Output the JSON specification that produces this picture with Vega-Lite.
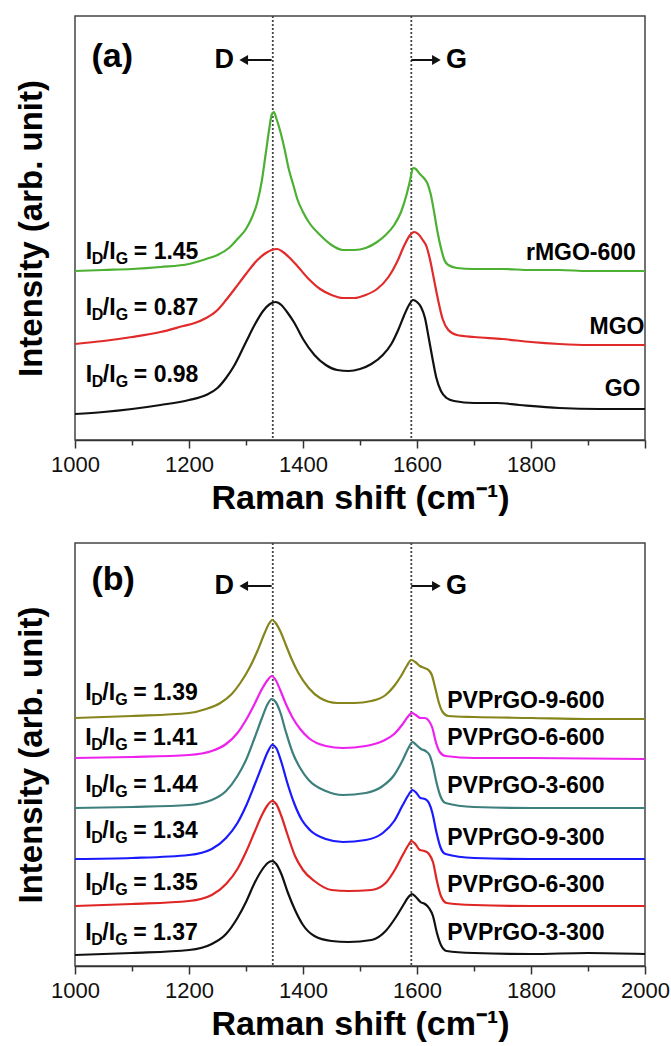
{
  "$schema": "https://vega.github.io/schema/vega-lite/v6.json",
  "padding": {"left": 14, "top": 14, "right": 0, "bottom": 0},
  "background": "white",
  "config": {
    "view": {"stroke": "#444", "strokeWidth": 1.5},
    "concat": {"spacing": 25},
    "text": {"font": "Liberation Sans", "fontWeight": "bold", "color": "#000"},
    "axis": {"grid": false, "labelFont": "Liberation Sans", "titleFont": "Liberation Sans", "titleColor": "#000", "labelColor": "#111", "domainColor": "#333", "tickColor": "#333"},
    "axisY": {"title": "Intensity (arb. unit)", "labels": false, "ticks": false, "domain": false, "titleFontSize": 33, "titleFontWeight": "bold", "titlePadding": 27}
  },
  "resolve": {"scale": {"color": "independent"}},
  "datasets": {
    "a": [
      {"s":"rMGO-600","x":1000,"v":169},{"s":"rMGO-600","x":1050,"v":170},{"s":"rMGO-600","x":1100,"v":171},{"s":"rMGO-600","x":1150,"v":173},{"s":"rMGO-600","x":1200,"v":176},{"s":"rMGO-600","x":1230,"v":181},{"s":"rMGO-600","x":1250,"v":185},{"s":"rMGO-600","x":1270,"v":192},{"s":"rMGO-600","x":1285,"v":201},{"s":"rMGO-600","x":1300,"v":211},{"s":"rMGO-600","x":1310,"v":222},{"s":"rMGO-600","x":1320,"v":238},{"s":"rMGO-600","x":1328,"v":260},{"s":"rMGO-600","x":1335,"v":288},{"s":"rMGO-600","x":1341,"v":312},{"s":"rMGO-600","x":1345,"v":325},{"s":"rMGO-600","x":1349,"v":328},{"s":"rMGO-600","x":1353,"v":322},{"s":"rMGO-600","x":1360,"v":309},{"s":"rMGO-600","x":1368,"v":290},{"s":"rMGO-600","x":1375,"v":271},{"s":"rMGO-600","x":1383,"v":255},{"s":"rMGO-600","x":1390,"v":241},{"s":"rMGO-600","x":1400,"v":228},{"s":"rMGO-600","x":1410,"v":218},{"s":"rMGO-600","x":1430,"v":205},{"s":"rMGO-600","x":1450,"v":195},{"s":"rMGO-600","x":1470,"v":190},{"s":"rMGO-600","x":1490,"v":190},{"s":"rMGO-600","x":1510,"v":192},{"s":"rMGO-600","x":1530,"v":198},{"s":"rMGO-600","x":1545,"v":205},{"s":"rMGO-600","x":1560,"v":215},{"s":"rMGO-600","x":1572,"v":228},{"s":"rMGO-600","x":1582,"v":246},{"s":"rMGO-600","x":1588,"v":260},{"s":"rMGO-600","x":1593,"v":272},{"s":"rMGO-600","x":1598,"v":271},{"s":"rMGO-600","x":1605,"v":266},{"s":"rMGO-600","x":1612,"v":262},{"s":"rMGO-600","x":1618,"v":257},{"s":"rMGO-600","x":1624,"v":246},{"s":"rMGO-600","x":1630,"v":228},{"s":"rMGO-600","x":1636,"v":208},{"s":"rMGO-600","x":1642,"v":192},{"s":"rMGO-600","x":1648,"v":180},{"s":"rMGO-600","x":1655,"v":175},{"s":"rMGO-600","x":1670,"v":172},{"s":"rMGO-600","x":1700,"v":171},{"s":"rMGO-600","x":1750,"v":171},{"s":"rMGO-600","x":1800,"v":170},{"s":"rMGO-600","x":1850,"v":170},{"s":"rMGO-600","x":1900,"v":169},{"s":"rMGO-600","x":1950,"v":169},{"s":"rMGO-600","x":2000,"v":169},
      {"s":"MGO","x":1000,"v":96},{"s":"MGO","x":1050,"v":99},{"s":"MGO","x":1100,"v":103},{"s":"MGO","x":1150,"v":108},{"s":"MGO","x":1190,"v":114},{"s":"MGO","x":1210,"v":117},{"s":"MGO","x":1230,"v":122},{"s":"MGO","x":1250,"v":130},{"s":"MGO","x":1265,"v":140},{"s":"MGO","x":1280,"v":151},{"s":"MGO","x":1300,"v":166},{"s":"MGO","x":1320,"v":180},{"s":"MGO","x":1335,"v":187},{"s":"MGO","x":1345,"v":190},{"s":"MGO","x":1355,"v":191},{"s":"MGO","x":1365,"v":188},{"s":"MGO","x":1375,"v":183},{"s":"MGO","x":1390,"v":174},{"s":"MGO","x":1410,"v":161},{"s":"MGO","x":1430,"v":151},{"s":"MGO","x":1450,"v":145},{"s":"MGO","x":1470,"v":142},{"s":"MGO","x":1490,"v":142},{"s":"MGO","x":1510,"v":145},{"s":"MGO","x":1530,"v":151},{"s":"MGO","x":1550,"v":163},{"s":"MGO","x":1565,"v":178},{"s":"MGO","x":1578,"v":195},{"s":"MGO","x":1588,"v":205},{"s":"MGO","x":1595,"v":208},{"s":"MGO","x":1602,"v":206},{"s":"MGO","x":1610,"v":200},{"s":"MGO","x":1617,"v":193},{"s":"MGO","x":1623,"v":180},{"s":"MGO","x":1630,"v":160},{"s":"MGO","x":1637,"v":140},{"s":"MGO","x":1645,"v":121},{"s":"MGO","x":1655,"v":110},{"s":"MGO","x":1670,"v":105},{"s":"MGO","x":1700,"v":103},{"s":"MGO","x":1750,"v":101},{"s":"MGO","x":1800,"v":98},{"s":"MGO","x":1850,"v":96},{"s":"MGO","x":1900,"v":95},{"s":"MGO","x":2000,"v":95},
      {"s":"GO","x":1000,"v":26},{"s":"GO","x":1050,"v":28},{"s":"GO","x":1100,"v":31},{"s":"GO","x":1150,"v":35},{"s":"GO","x":1200,"v":40},{"s":"GO","x":1230,"v":45},{"s":"GO","x":1250,"v":52},{"s":"GO","x":1265,"v":62},{"s":"GO","x":1280,"v":75},{"s":"GO","x":1300,"v":98},{"s":"GO","x":1315,"v":115},{"s":"GO","x":1330,"v":129},{"s":"GO","x":1342,"v":136},{"s":"GO","x":1352,"v":138},{"s":"GO","x":1362,"v":135},{"s":"GO","x":1372,"v":128},{"s":"GO","x":1385,"v":117},{"s":"GO","x":1400,"v":101},{"s":"GO","x":1420,"v":85},{"s":"GO","x":1440,"v":75},{"s":"GO","x":1460,"v":70},{"s":"GO","x":1480,"v":69},{"s":"GO","x":1500,"v":71},{"s":"GO","x":1520,"v":76},{"s":"GO","x":1540,"v":85},{"s":"GO","x":1555,"v":96},{"s":"GO","x":1567,"v":110},{"s":"GO","x":1577,"v":124},{"s":"GO","x":1586,"v":135},{"s":"GO","x":1593,"v":140},{"s":"GO","x":1600,"v":138},{"s":"GO","x":1607,"v":133},{"s":"GO","x":1614,"v":122},{"s":"GO","x":1620,"v":104},{"s":"GO","x":1627,"v":82},{"s":"GO","x":1634,"v":62},{"s":"GO","x":1642,"v":49},{"s":"GO","x":1652,"v":42},{"s":"GO","x":1665,"v":39},{"s":"GO","x":1700,"v":37},{"s":"GO","x":1740,"v":37},{"s":"GO","x":1780,"v":35},{"s":"GO","x":1850,"v":32},{"s":"GO","x":1920,"v":31},{"s":"GO","x":2000,"v":31}
    ],
    "b": [
      {"s":"PVPrGO-9-600","x":1000,"v":248},{"s":"PVPrGO-9-600","x":1100,"v":250},{"s":"PVPrGO-9-600","x":1200,"v":253},{"s":"PVPrGO-9-600","x":1230,"v":257},{"s":"PVPrGO-9-600","x":1255,"v":263},{"s":"PVPrGO-9-600","x":1275,"v":272},{"s":"PVPrGO-9-600","x":1290,"v":283},{"s":"PVPrGO-9-600","x":1305,"v":297},{"s":"PVPrGO-9-600","x":1320,"v":315},{"s":"PVPrGO-9-600","x":1332,"v":332},{"s":"PVPrGO-9-600","x":1340,"v":342},{"s":"PVPrGO-9-600","x":1346,"v":346},{"s":"PVPrGO-9-600","x":1352,"v":343},{"s":"PVPrGO-9-600","x":1360,"v":335},{"s":"PVPrGO-9-600","x":1370,"v":321},{"s":"PVPrGO-9-600","x":1380,"v":307},{"s":"PVPrGO-9-600","x":1392,"v":293},{"s":"PVPrGO-9-600","x":1410,"v":278},{"s":"PVPrGO-9-600","x":1430,"v":268},{"s":"PVPrGO-9-600","x":1460,"v":263},{"s":"PVPrGO-9-600","x":1490,"v":263},{"s":"PVPrGO-9-600","x":1520,"v":265},{"s":"PVPrGO-9-600","x":1545,"v":271},{"s":"PVPrGO-9-600","x":1560,"v":280},{"s":"PVPrGO-9-600","x":1572,"v":290},{"s":"PVPrGO-9-600","x":1582,"v":300},{"s":"PVPrGO-9-600","x":1590,"v":306},{"s":"PVPrGO-9-600","x":1597,"v":304},{"s":"PVPrGO-9-600","x":1605,"v":300},{"s":"PVPrGO-9-600","x":1613,"v":298},{"s":"PVPrGO-9-600","x":1620,"v":296},{"s":"PVPrGO-9-600","x":1626,"v":291},{"s":"PVPrGO-9-600","x":1632,"v":278},{"s":"PVPrGO-9-600","x":1638,"v":264},{"s":"PVPrGO-9-600","x":1645,"v":254},{"s":"PVPrGO-9-600","x":1655,"v":250},{"s":"PVPrGO-9-600","x":1700,"v":249},{"s":"PVPrGO-9-600","x":1800,"v":248},{"s":"PVPrGO-9-600","x":1900,"v":247},{"s":"PVPrGO-9-600","x":2000,"v":247},
      {"s":"PVPrGO-6-600","x":1000,"v":208},{"s":"PVPrGO-6-600","x":1100,"v":209},{"s":"PVPrGO-6-600","x":1200,"v":211},{"s":"PVPrGO-6-600","x":1240,"v":215},{"s":"PVPrGO-6-600","x":1265,"v":222},{"s":"PVPrGO-6-600","x":1285,"v":233},{"s":"PVPrGO-6-600","x":1300,"v":246},{"s":"PVPrGO-6-600","x":1315,"v":262},{"s":"PVPrGO-6-600","x":1328,"v":277},{"s":"PVPrGO-6-600","x":1338,"v":286},{"s":"PVPrGO-6-600","x":1345,"v":290},{"s":"PVPrGO-6-600","x":1352,"v":286},{"s":"PVPrGO-6-600","x":1360,"v":276},{"s":"PVPrGO-6-600","x":1370,"v":262},{"s":"PVPrGO-6-600","x":1382,"v":248},{"s":"PVPrGO-6-600","x":1395,"v":237},{"s":"PVPrGO-6-600","x":1410,"v":228},{"s":"PVPrGO-6-600","x":1440,"v":220},{"s":"PVPrGO-6-600","x":1470,"v":218},{"s":"PVPrGO-6-600","x":1510,"v":220},{"s":"PVPrGO-6-600","x":1540,"v":225},{"s":"PVPrGO-6-600","x":1560,"v":232},{"s":"PVPrGO-6-600","x":1575,"v":242},{"s":"PVPrGO-6-600","x":1585,"v":250},{"s":"PVPrGO-6-600","x":1591,"v":253},{"s":"PVPrGO-6-600","x":1598,"v":251},{"s":"PVPrGO-6-600","x":1606,"v":248},{"s":"PVPrGO-6-600","x":1614,"v":248},{"s":"PVPrGO-6-600","x":1621,"v":245},{"s":"PVPrGO-6-600","x":1627,"v":238},{"s":"PVPrGO-6-600","x":1633,"v":224},{"s":"PVPrGO-6-600","x":1640,"v":214},{"s":"PVPrGO-6-600","x":1650,"v":210},{"s":"PVPrGO-6-600","x":1700,"v":208},{"s":"PVPrGO-6-600","x":1800,"v":208},{"s":"PVPrGO-6-600","x":2000,"v":207},
      {"s":"PVPrGO-3-600","x":1000,"v":158},{"s":"PVPrGO-3-600","x":1100,"v":159},{"s":"PVPrGO-3-600","x":1200,"v":161},{"s":"PVPrGO-3-600","x":1240,"v":166},{"s":"PVPrGO-3-600","x":1265,"v":175},{"s":"PVPrGO-3-600","x":1285,"v":190},{"s":"PVPrGO-3-600","x":1300,"v":206},{"s":"PVPrGO-3-600","x":1315,"v":228},{"s":"PVPrGO-3-600","x":1328,"v":248},{"s":"PVPrGO-3-600","x":1338,"v":262},{"s":"PVPrGO-3-600","x":1345,"v":267},{"s":"PVPrGO-3-600","x":1352,"v":264},{"s":"PVPrGO-3-600","x":1360,"v":254},{"s":"PVPrGO-3-600","x":1370,"v":234},{"s":"PVPrGO-3-600","x":1382,"v":213},{"s":"PVPrGO-3-600","x":1395,"v":198},{"s":"PVPrGO-3-600","x":1410,"v":186},{"s":"PVPrGO-3-600","x":1440,"v":175},{"s":"PVPrGO-3-600","x":1470,"v":171},{"s":"PVPrGO-3-600","x":1510,"v":173},{"s":"PVPrGO-3-600","x":1540,"v":180},{"s":"PVPrGO-3-600","x":1560,"v":191},{"s":"PVPrGO-3-600","x":1575,"v":206},{"s":"PVPrGO-3-600","x":1585,"v":218},{"s":"PVPrGO-3-600","x":1592,"v":224},{"s":"PVPrGO-3-600","x":1599,"v":221},{"s":"PVPrGO-3-600","x":1607,"v":217},{"s":"PVPrGO-3-600","x":1615,"v":215},{"s":"PVPrGO-3-600","x":1622,"v":211},{"s":"PVPrGO-3-600","x":1628,"v":200},{"s":"PVPrGO-3-600","x":1634,"v":184},{"s":"PVPrGO-3-600","x":1641,"v":170},{"s":"PVPrGO-3-600","x":1650,"v":163},{"s":"PVPrGO-3-600","x":1700,"v":159},{"s":"PVPrGO-3-600","x":1800,"v":158},{"s":"PVPrGO-3-600","x":2000,"v":158},
      {"s":"PVPrGO-9-300","x":1000,"v":107},{"s":"PVPrGO-9-300","x":1100,"v":108},{"s":"PVPrGO-9-300","x":1200,"v":111},{"s":"PVPrGO-9-300","x":1240,"v":117},{"s":"PVPrGO-9-300","x":1265,"v":128},{"s":"PVPrGO-9-300","x":1285,"v":143},{"s":"PVPrGO-9-300","x":1300,"v":160},{"s":"PVPrGO-9-300","x":1315,"v":181},{"s":"PVPrGO-9-300","x":1328,"v":200},{"s":"PVPrGO-9-300","x":1338,"v":214},{"s":"PVPrGO-9-300","x":1346,"v":221},{"s":"PVPrGO-9-300","x":1353,"v":218},{"s":"PVPrGO-9-300","x":1362,"v":204},{"s":"PVPrGO-9-300","x":1372,"v":184},{"s":"PVPrGO-9-300","x":1385,"v":162},{"s":"PVPrGO-9-300","x":1398,"v":146},{"s":"PVPrGO-9-300","x":1412,"v":136},{"s":"PVPrGO-9-300","x":1440,"v":127},{"s":"PVPrGO-9-300","x":1470,"v":124},{"s":"PVPrGO-9-300","x":1510,"v":126},{"s":"PVPrGO-9-300","x":1540,"v":133},{"s":"PVPrGO-9-300","x":1560,"v":145},{"s":"PVPrGO-9-300","x":1575,"v":161},{"s":"PVPrGO-9-300","x":1585,"v":171},{"s":"PVPrGO-9-300","x":1592,"v":176},{"s":"PVPrGO-9-300","x":1599,"v":173},{"s":"PVPrGO-9-300","x":1606,"v":168},{"s":"PVPrGO-9-300","x":1614,"v":167},{"s":"PVPrGO-9-300","x":1621,"v":163},{"s":"PVPrGO-9-300","x":1627,"v":153},{"s":"PVPrGO-9-300","x":1634,"v":134},{"s":"PVPrGO-9-300","x":1641,"v":119},{"s":"PVPrGO-9-300","x":1650,"v":112},{"s":"PVPrGO-9-300","x":1700,"v":108},{"s":"PVPrGO-9-300","x":1800,"v":107},{"s":"PVPrGO-9-300","x":2000,"v":107},
      {"s":"PVPrGO-6-300","x":1000,"v":60},{"s":"PVPrGO-6-300","x":1100,"v":62},{"s":"PVPrGO-6-300","x":1200,"v":65},{"s":"PVPrGO-6-300","x":1240,"v":71},{"s":"PVPrGO-6-300","x":1265,"v":82},{"s":"PVPrGO-6-300","x":1285,"v":97},{"s":"PVPrGO-6-300","x":1300,"v":114},{"s":"PVPrGO-6-300","x":1315,"v":134},{"s":"PVPrGO-6-300","x":1328,"v":151},{"s":"PVPrGO-6-300","x":1338,"v":161},{"s":"PVPrGO-6-300","x":1346,"v":165},{"s":"PVPrGO-6-300","x":1353,"v":162},{"s":"PVPrGO-6-300","x":1362,"v":150},{"s":"PVPrGO-6-300","x":1373,"v":131},{"s":"PVPrGO-6-300","x":1386,"v":110},{"s":"PVPrGO-6-300","x":1400,"v":96},{"s":"PVPrGO-6-300","x":1420,"v":85},{"s":"PVPrGO-6-300","x":1450,"v":76},{"s":"PVPrGO-6-300","x":1480,"v":75},{"s":"PVPrGO-6-300","x":1520,"v":76},{"s":"PVPrGO-6-300","x":1545,"v":83},{"s":"PVPrGO-6-300","x":1562,"v":97},{"s":"PVPrGO-6-300","x":1575,"v":111},{"s":"PVPrGO-6-300","x":1585,"v":121},{"s":"PVPrGO-6-300","x":1590,"v":125},{"s":"PVPrGO-6-300","x":1597,"v":122},{"s":"PVPrGO-6-300","x":1605,"v":116},{"s":"PVPrGO-6-300","x":1613,"v":115},{"s":"PVPrGO-6-300","x":1621,"v":112},{"s":"PVPrGO-6-300","x":1628,"v":104},{"s":"PVPrGO-6-300","x":1635,"v":85},{"s":"PVPrGO-6-300","x":1642,"v":70},{"s":"PVPrGO-6-300","x":1652,"v":63},{"s":"PVPrGO-6-300","x":1700,"v":61},{"s":"PVPrGO-6-300","x":1800,"v":60},{"s":"PVPrGO-6-300","x":2000,"v":60},
      {"s":"PVPrGO-3-300","x":1000,"v":11},{"s":"PVPrGO-3-300","x":1100,"v":13},{"s":"PVPrGO-3-300","x":1200,"v":16},{"s":"PVPrGO-3-300","x":1240,"v":22},{"s":"PVPrGO-3-300","x":1265,"v":32},{"s":"PVPrGO-3-300","x":1285,"v":48},{"s":"PVPrGO-3-300","x":1300,"v":64},{"s":"PVPrGO-3-300","x":1315,"v":83},{"s":"PVPrGO-3-300","x":1328,"v":96},{"s":"PVPrGO-3-300","x":1338,"v":103},{"s":"PVPrGO-3-300","x":1346,"v":105},{"s":"PVPrGO-3-300","x":1353,"v":102},{"s":"PVPrGO-3-300","x":1362,"v":92},{"s":"PVPrGO-3-300","x":1373,"v":74},{"s":"PVPrGO-3-300","x":1386,"v":56},{"s":"PVPrGO-3-300","x":1400,"v":41},{"s":"PVPrGO-3-300","x":1420,"v":30},{"s":"PVPrGO-3-300","x":1450,"v":25},{"s":"PVPrGO-3-300","x":1480,"v":24},{"s":"PVPrGO-3-300","x":1520,"v":26},{"s":"PVPrGO-3-300","x":1545,"v":35},{"s":"PVPrGO-3-300","x":1562,"v":48},{"s":"PVPrGO-3-300","x":1575,"v":60},{"s":"PVPrGO-3-300","x":1585,"v":69},{"s":"PVPrGO-3-300","x":1591,"v":72},{"s":"PVPrGO-3-300","x":1598,"v":69},{"s":"PVPrGO-3-300","x":1606,"v":64},{"s":"PVPrGO-3-300","x":1614,"v":62},{"s":"PVPrGO-3-300","x":1621,"v":58},{"s":"PVPrGO-3-300","x":1628,"v":50},{"s":"PVPrGO-3-300","x":1635,"v":33},{"s":"PVPrGO-3-300","x":1642,"v":21},{"s":"PVPrGO-3-300","x":1652,"v":15},{"s":"PVPrGO-3-300","x":1700,"v":13},{"s":"PVPrGO-3-300","x":1800,"v":12},{"s":"PVPrGO-3-300","x":1900,"v":13},{"s":"PVPrGO-3-300","x":2000,"v":12}
    ],
    "ratioA": [{"x":1019,"v":188,"t":"= 1.45"},{"x":1019,"v":132,"t":"= 0.87"},{"x":1019,"v":65,"t":"= 0.98"}],
    "nameA": [{"x":1984,"v":187,"n":"rMGO-600"},{"x":1999,"v":113,"n":"MGO"},{"x":1992,"v":51,"n":"GO"}],
    "ratioB": [{"x":1018,"v":273,"t":"= 1.39"},{"x":1018,"v":228,"t":"= 1.41"},{"x":1018,"v":181,"t":"= 1.44"},{"x":1018,"v":135,"t":"= 1.34"},{"x":1018,"v":83,"t":"= 1.35"},{"x":1018,"v":33,"t":"= 1.37"}],
    "nameB": [{"x":1653,"v":265,"n":"PVPrGO-9-600"},{"x":1653,"v":228,"n":"PVPrGO-6-600"},{"x":1653,"v":180,"n":"PVPrGO-3-600"},{"x":1653,"v":128,"n":"PVPrGO-9-300"},{"x":1653,"v":81,"n":"PVPrGO-6-300"},{"x":1653,"v":33,"n":"PVPrGO-3-300"}],
    "peaks": [{"x":1347},{"x":1590}],
    "arrows": [{"x":1345,"x2":1300,"v":380},{"x":1590,"x2":1630,"v":380}],
    "headL": [{"x":1296,"v":380}],
    "headR": [{"x":1634,"v":380}],
    "labD": [{"x":1279,"v":380,"t":"D"}],
    "labG": [{"x":1651,"v":380,"t":"G"}],
    "tagA": [{"x":1029,"v":383,"t":"(a)"}],
    "tagB": [{"x":1029,"v":386,"t":"(b)"}]
  },
  "vconcat": [
    {
      "width": 570, "height": 424,
      "resolve": {"axis": {"x": "independent"}},
      "encoding": {
        "y": {"field": "v", "type": "quantitative", "scale": {"domain": [0, 424], "nice": false}, "title": "Intensity (arb. unit)"}
      },
      "layer": [
        {"data": {"name": "peaks"}, "mark": {"type": "rule", "color": "#444", "strokeWidth": 1.8, "strokeDash": [2, 2]},
         "encoding": {"y": null, "x": {"field": "x", "type": "quantitative", "scale": {"domain": [1000, 2000], "nice": false, "zero": false},
           "axis": {"orient": "bottom", "values": [1100, 1300, 1500, 1700, 1900], "tickSize": 5, "tickWidth": 1.5, "labels": false, "domain": false, "title": null}}}},
        {"data": {"name": "a"}, "mark": {"type": "line", "strokeWidth": 2.2, "interpolate": "monotone"},
         "encoding": {
           "x": {"field": "x", "type": "quantitative", "scale": {"domain": [1000, 2000], "nice": false, "zero": false},
             "axis": {"orient": "bottom", "values": [1000, 1200, 1400, 1600, 1800, 2000], "format": "d", "labelExpr": "datum.value == 2000 ? '' : datum.label", "title": "Raman shift (cm⁻¹)", "tickSize": 8, "tickWidth": 1.5, "labelFontSize": 22, "labelPadding": 6, "labelFlush": false, "labelOverlap": false, "titleFontSize": 34, "titleFontWeight": "bold", "titlePadding": 6, "domainWidth": 1.5}},
           "color": {"field": "s", "type": "nominal", "legend": null, "scale": {"domain": ["rMGO-600", "MGO", "GO"], "range": ["#4cb033", "#e12a2a", "#111111"]}},
           "detail": {"field": "s"}
         }},
        {"data": {"name": "ratioA"}, "mark": {"type": "text", "align": "left", "baseline": "middle", "fontSize": 23},
         "encoding": {"x": {"field": "x", "type": "quantitative", "axis": null}, "text": {"value": "I"}}},
        {"data": {"name": "ratioA"}, "mark": {"type": "text", "align": "left", "baseline": "middle", "fontSize": 16, "dx": 6, "dy": 7},
         "encoding": {"x": {"field": "x", "type": "quantitative", "axis": null}, "text": {"value": "D"}}},
        {"data": {"name": "ratioA"}, "mark": {"type": "text", "align": "left", "baseline": "middle", "fontSize": 23, "dx": 17},
         "encoding": {"x": {"field": "x", "type": "quantitative", "axis": null}, "text": {"value": "/I"}}},
        {"data": {"name": "ratioA"}, "mark": {"type": "text", "align": "left", "baseline": "middle", "fontSize": 16, "dx": 30, "dy": 7},
         "encoding": {"x": {"field": "x", "type": "quantitative", "axis": null}, "text": {"value": "G"}}},
        {"data": {"name": "ratioA"}, "mark": {"type": "text", "align": "left", "baseline": "middle", "fontSize": 23, "dx": 48},
         "encoding": {"x": {"field": "x", "type": "quantitative", "axis": null}, "text": {"field": "t"}}},
        {"data": {"name": "nameA"}, "mark": {"type": "text", "align": "right", "baseline": "middle", "fontSize": 23},
         "encoding": {"x": {"field": "x", "type": "quantitative", "axis": null}, "text": {"field": "n"}}},
        {"data": {"name": "arrows"}, "mark": {"type": "rule", "color": "#111", "strokeWidth": 2},
         "encoding": {"x": {"field": "x", "type": "quantitative", "axis": null}, "x2": {"field": "x2"}}},
        {"data": {"name": "headL"}, "mark": {"type": "point", "shape": "triangle-left", "filled": true, "opacity": 1, "size": 100, "color": "#111"},
         "encoding": {"x": {"field": "x", "type": "quantitative", "axis": null}}},
        {"data": {"name": "headR"}, "mark": {"type": "point", "shape": "triangle-right", "filled": true, "opacity": 1, "size": 100, "color": "#111"},
         "encoding": {"x": {"field": "x", "type": "quantitative", "axis": null}}},
        {"data": {"name": "labD"}, "mark": {"type": "text", "align": "right", "baseline": "middle", "fontSize": 27},
         "encoding": {"x": {"field": "x", "type": "quantitative", "axis": null}, "text": {"field": "t"}}},
        {"data": {"name": "labG"}, "mark": {"type": "text", "align": "left", "baseline": "middle", "fontSize": 27},
         "encoding": {"x": {"field": "x", "type": "quantitative", "axis": null}, "text": {"field": "t"}}},
        {"data": {"name": "tagA"}, "mark": {"type": "text", "align": "left", "baseline": "middle", "fontSize": 34},
         "encoding": {"x": {"field": "x", "type": "quantitative", "axis": null}, "text": {"field": "t"}}}
      ]
    },
    {
      "width": 570, "height": 423,
      "resolve": {"axis": {"x": "independent"}},
      "encoding": {
        "y": {"field": "v", "type": "quantitative", "scale": {"domain": [0, 423], "nice": false}, "title": "Intensity (arb. unit)"}
      },
      "layer": [
        {"data": {"name": "peaks"}, "mark": {"type": "rule", "color": "#444", "strokeWidth": 1.8, "strokeDash": [2, 2]},
         "encoding": {"y": null, "x": {"field": "x", "type": "quantitative", "scale": {"domain": [1000, 2000], "nice": false, "zero": false},
           "axis": {"orient": "bottom", "values": [1100, 1300, 1500, 1700, 1900], "tickSize": 5, "tickWidth": 1.5, "labels": false, "domain": false, "title": null}}}},
        {"data": {"name": "b"}, "mark": {"type": "line", "strokeWidth": 2.2, "interpolate": "monotone"},
         "encoding": {
           "x": {"field": "x", "type": "quantitative", "scale": {"domain": [1000, 2000], "nice": false, "zero": false},
             "axis": {"orient": "bottom", "values": [1000, 1200, 1400, 1600, 1800, 2000], "format": "d", "title": "Raman shift (cm⁻¹)", "tickSize": 8, "tickWidth": 1.5, "labelFontSize": 22, "labelPadding": 6, "labelFlush": false, "labelOverlap": false, "titleFontSize": 34, "titleFontWeight": "bold", "titlePadding": 6, "domainWidth": 1.5}},
           "color": {"field": "s", "type": "nominal", "legend": null, "scale": {"domain": ["PVPrGO-9-600", "PVPrGO-6-600", "PVPrGO-3-600", "PVPrGO-9-300", "PVPrGO-6-300", "PVPrGO-3-300"], "range": ["#85851c", "#ee22ee", "#3d7f7c", "#1a1aff", "#e02525", "#111111"]}},
           "detail": {"field": "s"}
         }},
        {"data": {"name": "ratioB"}, "mark": {"type": "text", "align": "left", "baseline": "middle", "fontSize": 23},
         "encoding": {"x": {"field": "x", "type": "quantitative", "axis": null}, "text": {"value": "I"}}},
        {"data": {"name": "ratioB"}, "mark": {"type": "text", "align": "left", "baseline": "middle", "fontSize": 16, "dx": 6, "dy": 7},
         "encoding": {"x": {"field": "x", "type": "quantitative", "axis": null}, "text": {"value": "D"}}},
        {"data": {"name": "ratioB"}, "mark": {"type": "text", "align": "left", "baseline": "middle", "fontSize": 23, "dx": 17},
         "encoding": {"x": {"field": "x", "type": "quantitative", "axis": null}, "text": {"value": "/I"}}},
        {"data": {"name": "ratioB"}, "mark": {"type": "text", "align": "left", "baseline": "middle", "fontSize": 16, "dx": 30, "dy": 7},
         "encoding": {"x": {"field": "x", "type": "quantitative", "axis": null}, "text": {"value": "G"}}},
        {"data": {"name": "ratioB"}, "mark": {"type": "text", "align": "left", "baseline": "middle", "fontSize": 23, "dx": 48},
         "encoding": {"x": {"field": "x", "type": "quantitative", "axis": null}, "text": {"field": "t"}}},
        {"data": {"name": "nameB"}, "mark": {"type": "text", "align": "left", "baseline": "middle", "fontSize": 23},
         "encoding": {"x": {"field": "x", "type": "quantitative", "axis": null}, "text": {"field": "n"}}},
        {"data": {"name": "arrows"}, "mark": {"type": "rule", "color": "#111", "strokeWidth": 2},
         "encoding": {"x": {"field": "x", "type": "quantitative", "axis": null}, "x2": {"field": "x2"}}},
        {"data": {"name": "headL"}, "mark": {"type": "point", "shape": "triangle-left", "filled": true, "opacity": 1, "size": 100, "color": "#111"},
         "encoding": {"x": {"field": "x", "type": "quantitative", "axis": null}}},
        {"data": {"name": "headR"}, "mark": {"type": "point", "shape": "triangle-right", "filled": true, "opacity": 1, "size": 100, "color": "#111"},
         "encoding": {"x": {"field": "x", "type": "quantitative", "axis": null}}},
        {"data": {"name": "labD"}, "mark": {"type": "text", "align": "right", "baseline": "middle", "fontSize": 27},
         "encoding": {"x": {"field": "x", "type": "quantitative", "axis": null}, "text": {"field": "t"}}},
        {"data": {"name": "labG"}, "mark": {"type": "text", "align": "left", "baseline": "middle", "fontSize": 27},
         "encoding": {"x": {"field": "x", "type": "quantitative", "axis": null}, "text": {"field": "t"}}},
        {"data": {"name": "tagB"}, "mark": {"type": "text", "align": "left", "baseline": "middle", "fontSize": 34},
         "encoding": {"x": {"field": "x", "type": "quantitative", "axis": null}, "text": {"field": "t"}}}
      ]
    }
  ]
}
